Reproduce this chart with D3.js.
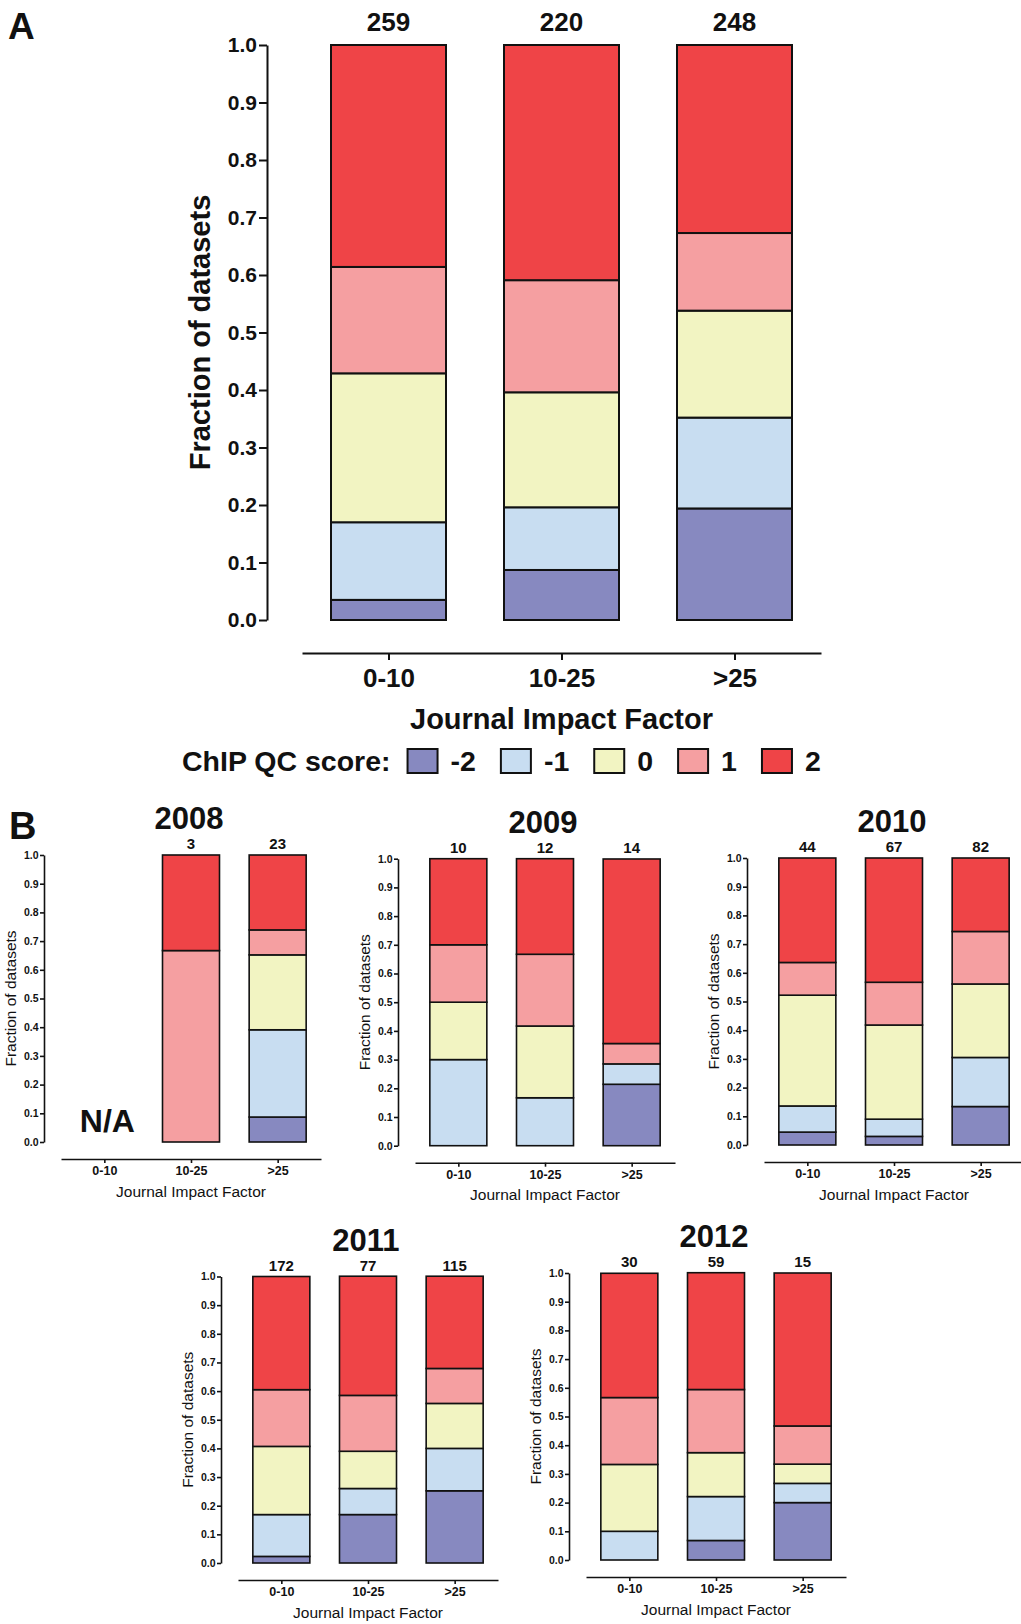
<!DOCTYPE html>
<html>
<head>
<meta charset="utf-8">
<script src="https://cdn.jsdelivr.net/npm/d3@7"></script>
<style>
  html, body { margin: 0; padding: 0; background: #fff; }
  svg { display: block; }
  text { font-family: "Liberation Sans", Arial, Helvetica, sans-serif; fill: #111; }
</style>
</head>
<body>
<svg id="chart" width="1021" height="1624"></svg>
<script>
// ChIP QC score categories and impact-factor bins
const scoreKeys = ["-2", "-1", "0", "1", "2"];
const impactBins = ["0-10", "10-25", ">25"];
const scoreColors = ["#8789C0", "#C8DDF1", "#F2F4C2", "#F59FA1", "#EF4447"];
const yTicks = [0, 0.1, 0.2, 0.3, 0.4, 0.5, 0.6, 0.7, 0.8, 0.9, 1.0];

// Panel A: all years pooled (fraction of datasets per score, per bin)
const overallCounts = [259, 220, 248];
const overallFractions = [
  [0.035, 0.135, 0.259, 0.185, 0.386],
  [0.087, 0.109, 0.200, 0.195, 0.409],
  [0.194, 0.158, 0.186, 0.135, 0.327]
];

// Panel B: per publication year
const years = ["2008", "2009", "2010", "2011", "2012"];
const counts2008 = [null, 3, 23];
const fractions2008 = [
  null,
  [0, 0, 0, 0.667, 0.333],
  [0.087, 0.304, 0.261, 0.087, 0.261]
];
const counts2009 = [10, 12, 14];
const fractions2009 = [
  [0, 0.300, 0.200, 0.200, 0.300],
  [0, 0.167, 0.250, 0.250, 0.333],
  [0.214, 0.071, 0, 0.071, 0.643]
];
const counts2010 = [44, 67, 82];
const fractions2010 = [
  [0.045, 0.091, 0.386, 0.114, 0.364],
  [0.030, 0.060, 0.328, 0.149, 0.433],
  [0.134, 0.171, 0.256, 0.183, 0.256]
];
const counts2011 = [172, 77, 115];
const fractions2011 = [
  [0.023, 0.146, 0.238, 0.198, 0.395],
  [0.169, 0.091, 0.130, 0.195, 0.416],
  [0.252, 0.148, 0.157, 0.122, 0.322]
];
const counts2012 = [30, 59, 15];
const fractions2012 = [
  [0, 0.100, 0.233, 0.233, 0.433],
  [0.068, 0.153, 0.153, 0.220, 0.407],
  [0.200, 0.067, 0.067, 0.133, 0.533]
];

const svg = d3.select("#chart");
const FONT = '"Liberation Sans", Arial, Helvetica, sans-serif';

function drawPanel(cfg, counts, fractions) {
  const g = svg.append("g");
  const y = d3.scaleLinear().domain([0, 1]).range([cfg.yBot, cfg.yTop]);
  const x = d3.scalePoint().domain(impactBins).range(cfg.xRange).padding(0.5);
  const color = d3.scaleOrdinal().domain(scoreKeys).range(scoreColors);

  // stacked bars
  const rows = impactBins
    .map((b, i) => fractions[i] ? Object.assign({ bin: b },
      Object.fromEntries(scoreKeys.map((k, j) => [k, fractions[i][j]]))) : null)
    .filter(r => r);
  const series = d3.stack().keys(scoreKeys)(rows);
  series.forEach(layer => {
    g.append("g").selectAll("rect")
      .data(layer.filter(d => d[1] - d[0] > 0.0005))
      .join("rect")
      .attr("x", d => x(d.data.bin) - cfg.barW / 2)
      .attr("y", d => y(d[1]))
      .attr("width", cfg.barW)
      .attr("height", d => y(d[0]) - y(d[1]))
      .attr("fill", color(layer.key))
      .attr("stroke", "#111")
      .attr("stroke-width", cfg.barStroke);
  });

  // sample sizes above bars
  g.append("g").selectAll("text")
    .data(impactBins.map((b, i) => ({ bin: b, n: counts[i] })).filter(d => d.n != null))
    .join("text")
    .attr("x", d => x(d.bin))
    .attr("y", cfg.yTop - cfg.countGap)
    .attr("text-anchor", "middle")
    .attr("font-size", cfg.countSize)
    .attr("font-weight", "bold")
    .text(d => d.n);

  // y axis
  const yAxis = g.append("g")
    .attr("transform", `translate(${cfg.axisX},0)`)
    .call(d3.axisLeft(y).tickValues(yTicks).tickFormat(d3.format(".1f"))
      .tickSize(cfg.yTickSize).tickSizeOuter(0).tickPadding(cfg.yTickPad));
  yAxis.select(".domain").attr("stroke", "#111").attr("stroke-width", cfg.axisStroke);
  yAxis.selectAll(".tick line").attr("stroke", "#111").attr("stroke-width", cfg.axisStroke);
  yAxis.selectAll(".tick text")
    .attr("font-family", FONT).attr("font-size", cfg.yTickFont)
    .attr("font-weight", "bold").attr("fill", "#111");

  // x axis (detached below the bars)
  const xAxis = g.append("g")
    .attr("transform", `translate(0,${cfg.yBot + cfg.xGap})`)
    .call(d3.axisBottom(x).tickSize(cfg.xTickSize).tickSizeOuter(0).tickPadding(cfg.xTickPad));
  xAxis.select(".domain").attr("stroke", "#111").attr("stroke-width", cfg.axisStroke);
  xAxis.selectAll(".tick line").attr("stroke", "#111").attr("stroke-width", cfg.axisStroke);
  xAxis.selectAll(".tick text")
    .attr("font-family", FONT).attr("font-size", cfg.xTickFont)
    .attr("font-weight", "bold").attr("fill", "#111");

  // axis titles
  g.append("text")
    .attr("transform", `translate(${cfg.axisX - cfg.yTitleGap},${(cfg.yTop + cfg.yBot) / 2}) rotate(-90)`)
    .attr("text-anchor", "middle")
    .attr("font-size", cfg.yTitleSize)
    .attr("font-weight", cfg.titleWeight)
    .text("Fraction of datasets");
  g.append("text")
    .attr("x", x(impactBins[1]))
    .attr("y", cfg.yBot + cfg.xGap + cfg.xTitleGap)
    .attr("text-anchor", "middle")
    .attr("font-size", cfg.xTitleSize)
    .attr("font-weight", cfg.titleWeight)
    .text("Journal Impact Factor");

  if (cfg.year) {
    g.append("text")
      .attr("x", x(impactBins[1]) - 2)
      .attr("y", cfg.yTop - 26)
      .attr("text-anchor", "middle")
      .attr("font-size", 31)
      .attr("font-weight", "bold")
      .text(cfg.year);
  }
  // bins without any datasets
  impactBins.forEach((b, i) => {
    if (!fractions[i]) {
      g.append("text")
        .attr("x", x(b) + 3)
        .attr("y", cfg.yBot - 10)
        .attr("text-anchor", "middle")
        .attr("font-size", 32)
        .attr("font-weight", "bold")
        .text("N/A");
    }
  });
  return { x, y };
}

// ---- Panel A ----
drawPanel({
  axisX: 267, yTop: 45, yBot: 620, xRange: [302, 821], barW: 115,
  barStroke: 2, axisStroke: 2, countSize: 26, countGap: 14,
  yTickSize: 8, yTickPad: 2, yTickFont: 21,
  xGap: 33, xTickSize: 7, xTickPad: 9, xTickFont: 26,
  yTitleGap: 57, yTitleSize: 29, xTitleGap: 76, xTitleSize: 29, titleWeight: "bold"
}, overallCounts, overallFractions);

svg.append("text").attr("x", 8).attr("y", 39)
  .attr("font-size", 37).attr("font-weight", "bold").text("A");

// legend
const legend = svg.append("g").attr("transform", "translate(0,749)");
const legendTitle = legend.append("text")
  .attr("x", 182).attr("y", 22)
  .attr("font-size", 28.5).attr("font-weight", "bold")
  .text("ChIP QC score:");
let lx = 182 + legendTitle.node().getComputedTextLength() + 17;
scoreKeys.forEach((k, i) => {
  legend.append("rect")
    .attr("x", lx).attr("y", 0).attr("width", 30).attr("height", 24)
    .attr("fill", scoreColors[i]).attr("stroke", "#111").attr("stroke-width", 2);
  const t = legend.append("text")
    .attr("x", lx + 43).attr("y", 22)
    .attr("font-size", 28.5).attr("font-weight", "bold")
    .text(k);
  lx += 30 + 13 + t.node().getComputedTextLength() + 25;
});

// ---- Panel B ----
svg.append("text").attr("x", 9).attr("y", 839)
  .attr("font-size", 38).attr("font-weight", "bold").text("B");

const small = {
  barW: 57, barStroke: 1.6, axisStroke: 1.6, countSize: 15, countGap: 6,
  yTickSize: 4, yTickPad: 1.5, yTickFont: 10.5,
  xGap: 17, xTickSize: 4, xTickPad: 3.5, xTickFont: 12.5,
  yTitleGap: 28, yTitleSize: 15.5, xTitleGap: 37.5, xTitleSize: 15.5, titleWeight: "normal"
};
const yearLayouts = [
  { axisX: 44,  yTop: 855,   yBot: 1142, xRange: [61, 321] },
  { axisX: 398, yTop: 858.7, yBot: 1145.7, xRange: [415, 675] },
  { axisX: 747, yTop: 858,   yBot: 1145, xRange: [764, 1024] },
  { axisX: 221, yTop: 1276.5, yBot: 1563, xRange: [238, 498] },
  { axisX: 569, yTop: 1273,  yBot: 1560, xRange: [586, 846] }
];
const yearCounts = [counts2008, counts2009, counts2010, counts2011, counts2012];
const yearFractions = [fractions2008, fractions2009, fractions2010, fractions2011, fractions2012];
years.forEach((yr, i) => {
  drawPanel(Object.assign({}, small, yearLayouts[i], { year: yr }), yearCounts[i], yearFractions[i]);
});
</script>
</body>
</html>
